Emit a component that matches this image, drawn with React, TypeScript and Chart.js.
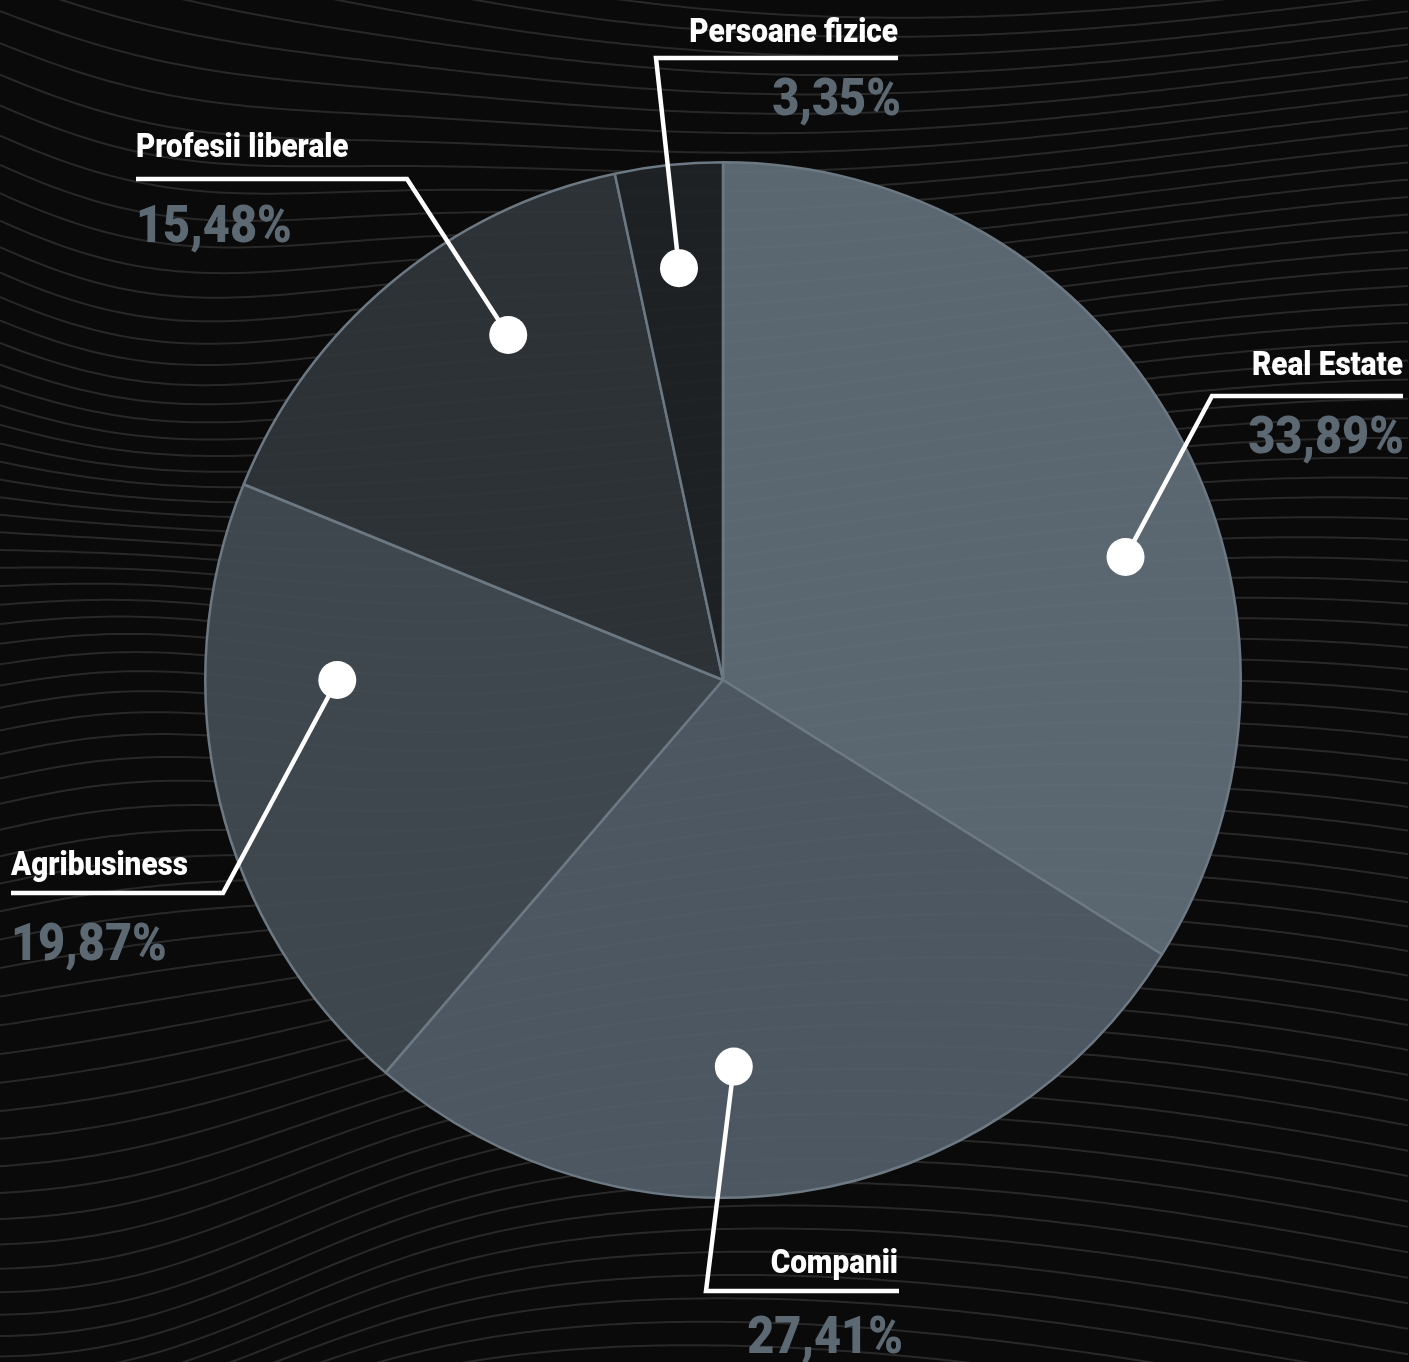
import React, { useEffect, useRef } from "react";
import { Chart, registerables } from "chart.js";

Chart.register(...registerables);

// ---- data ----
const categories = ["Real Estate", "Companii", "Agribusiness", "Profesii liberale", "Persoane fizice"];
const shares = [33.89, 27.41, 19.87, 15.48, 3.35];

// ---- styles ----
const sliceColors = [
  "rgba(98,111,121,0.93)",
  "rgba(83,94,104,0.93)",
  "rgba(67,76,84,0.93)",
  "rgba(48,54,59,0.93)",
  "rgba(31,35,38,0.93)",
];
const borderColor = "#6c7882";
const valueColor = "#5c6872";

// annotation layout (dot placed inside slice by angle/radius fraction; leader elbow and label anchors)
const annotLayout = [
  { dotAngle: 73, dotR: 0.813, elbow: [1212, 396], lineEnd: 1403, align: "right", labelX: 1403, labelY: 375, valueX: 1404, valueY: 453 },
  { dotAngle: 178.4, dotR: 0.747, elbow: [706, 1291], lineEnd: 899, align: "right", labelX: 898, labelY: 1273, valueX: 903, valueY: 1353 },
  { dotAngle: 270, dotR: 0.745, elbow: [223, 893], lineEnd: 11, align: "left", labelX: 11, labelY: 875, valueX: 11, valueY: 960 },
  { dotAngle: 328.1, dotR: 0.785, elbow: [407, 179], lineEnd: 136, align: "left", labelX: 136, labelY: 157, valueX: 136, valueY: 242 },
  { dotAngle: 353.9, dotR: 0.8, elbow: [656, 58], lineEnd: 898, align: "right", labelX: 898, labelY: 42, valueX: 901, valueY: 115 },
];

const W = 1409;
const H = 1362;

function drawScaledText(ctx: CanvasRenderingContext2D, text: string, x: number, y: number, align: CanvasTextAlign, font: string, color: string, sx: number) {
  ctx.save();
  ctx.font = font;
  ctx.fillStyle = color;
  ctx.textBaseline = "alphabetic";
  ctx.textAlign = align;
  ctx.translate(x, y);
  ctx.scale(sx, 1);
  ctx.fillText(text, 0, 0);
  ctx.restore();
}

const backgroundPlugin = {
  id: "wavyBackground",
  beforeDraw(chart: any) {
    const ctx: CanvasRenderingContext2D = chart.ctx;
    ctx.save();
    ctx.fillStyle = "#0a0a0a";
    ctx.fillRect(0, 0, chart.width, chart.height);
    ctx.strokeStyle = "rgba(160,160,160,0.2)";
    ctx.lineWidth = 2;
    for (let i = -30; i < 100; i++) {
      const y0 = i * 21;
      ctx.beginPath();
      for (let x = 0; x <= chart.width; x += 8) {
        const t = x / chart.width;
        const bend = 90 * Math.sin(t * 3.2 + y0 / 420) + 70 * Math.exp(-Math.pow((x - 120) / 260, 2)) * Math.sin(y0 / 160);
        const y = y0 + bend - 120 * (1 - t) * Math.cos(y0 / 700);
        if (x === 0) ctx.moveTo(x, y);
        else ctx.lineTo(x, y);
      }
      ctx.stroke();
    }
    ctx.restore();
  },
};

const annotationPlugin = {
  id: "pieAnnotations",
  afterDraw(chart: any) {
    const ctx: CanvasRenderingContext2D = chart.ctx;
    const arcs = chart.getDatasetMeta(0).data;
    arcs.forEach((arc: any, i: number) => {
      const a = annotLayout[i];
      const ang = (a.dotAngle * Math.PI) / 180;
      const r = arc.outerRadius * a.dotR;
      const dx = arc.x + r * Math.sin(ang);
      const dy = arc.y - r * Math.cos(ang);
      ctx.save();
      ctx.strokeStyle = "#ffffff";
      ctx.lineWidth = 4.5;
      ctx.lineJoin = "miter";
      ctx.beginPath();
      ctx.moveTo(dx, dy);
      ctx.lineTo(a.elbow[0], a.elbow[1]);
      ctx.lineTo(a.lineEnd, a.elbow[1]);
      ctx.stroke();
      ctx.fillStyle = "#ffffff";
      ctx.beginPath();
      ctx.arc(dx, dy, 19, 0, Math.PI * 2);
      ctx.fill();
      ctx.restore();

      drawScaledText(ctx, categories[i], a.labelX, a.labelY, a.align as CanvasTextAlign, "900 33px Roboto", "#ffffff", 0.9);
      const valueText = shares[i].toFixed(2).replace(".", ",") + "%";
      drawScaledText(ctx, valueText, a.valueX, a.valueY, a.align as CanvasTextAlign, "900 52px Roboto", valueColor, 0.9);
    });
  },
};

export default function App() {
  const canvasRef = useRef<HTMLCanvasElement | null>(null);

  useEffect(() => {
    if (!canvasRef.current) return;
    const chart = new Chart(canvasRef.current, {
      type: "pie",
      data: {
        labels: categories,
        datasets: [
          {
            data: shares,
            backgroundColor: sliceColors,
            borderColor: borderColor,
            borderWidth: 2.5,
          },
        ],
      },
      options: {
        responsive: false,
        animation: false,
        events: [],
        layout: { padding: { left: 203, right: 166, top: 161, bottom: 163 } },
        plugins: {
          legend: { display: false },
          tooltip: { enabled: false },
        },
      },
      plugins: [backgroundPlugin, annotationPlugin],
    });
    return () => chart.destroy();
  }, []);

  return (
    <div style={{ position: "absolute", left: 0, top: 0, width: W, height: H, background: "#0a0a0a" }}>
      <canvas ref={canvasRef} width={W} height={H} style={{ width: W, height: H, display: "block" }} />
    </div>
  );
}
